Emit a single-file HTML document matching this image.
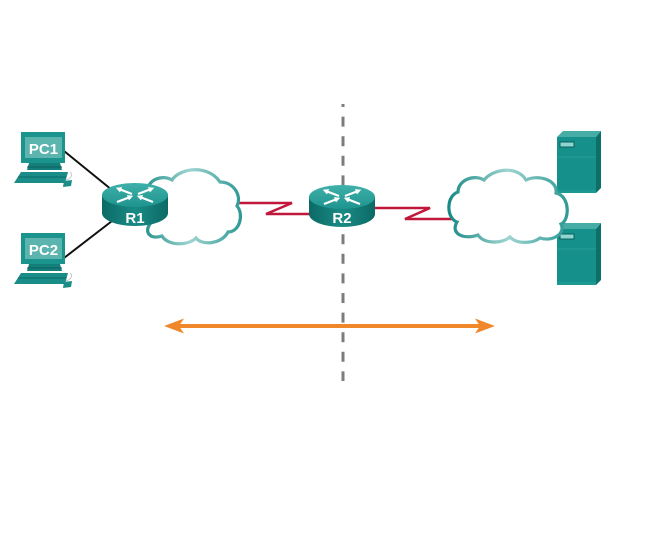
<!DOCTYPE html>
<html>
<head>
<meta charset="utf-8">
<style>
html,body{margin:0;padding:0;background:#fff;}
body{width:653px;height:556px;overflow:hidden;}
svg{display:block;}
text{font-family:"Liberation Sans",Arial,sans-serif;font-weight:bold;fill:#fff;}
</style>
</head>
<body>
<svg width="653" height="556" viewBox="0 0 653 556" xmlns="http://www.w3.org/2000/svg">
<defs>
  <linearGradient id="cloudG" x1="0" y1="0" x2="1" y2="0">
    <stop offset="0" stop-color="#178a85"/>
    <stop offset="0.5" stop-color="#9fd4d0"/>
    <stop offset="1" stop-color="#2f9a95"/>
  </linearGradient>
  <linearGradient id="rBody" x1="0" y1="0" x2="1" y2="0">
    <stop offset="0" stop-color="#0c6a66"/>
    <stop offset="0.5" stop-color="#1a8a85"/>
    <stop offset="1" stop-color="#0c6a66"/>
  </linearGradient>
  <linearGradient id="rTop" x1="0" y1="0" x2="0" y2="1">
    <stop offset="0" stop-color="#40b0aa"/>
    <stop offset="1" stop-color="#1e948e"/>
  </linearGradient>
  <marker id="ah" viewBox="0 0 10 10" refX="4" refY="5" markerWidth="2.6" markerHeight="2.6" orient="auto">
    <path d="M0,0 L10,5 L0,10 Z" fill="#fff"/>
  </marker>
</defs>

<!-- dashed divider -->
<line x1="343" y1="104" x2="343" y2="381" stroke="#7c7c7c" stroke-width="3" stroke-dasharray="10 9.6" stroke-dashoffset="7"/>

<!-- black links -->
<line x1="64" y1="151" x2="112" y2="190" stroke="#111" stroke-width="2"/>
<line x1="64" y1="258" x2="112" y2="221" stroke="#111" stroke-width="2"/>

<!-- serial links -->
<polyline points="236,203 292,203 266,214 312,214" fill="none" stroke="#c0173b" stroke-width="2.5"/>
<polyline points="372,208 430,208 405,219 454,219" fill="none" stroke="#c0173b" stroke-width="2.5"/>

<!-- servers -->
<g>
  <polygon points="557,137 563,131 601,131 596,137" fill="#47aca6"/>
  <rect x="557" y="137" width="39" height="56" fill="#15908a"/>
  <polygon points="596,137 601,131 601,188 596,193" fill="#0d6e6a"/>
  <line x1="557" y1="157" x2="596" y2="157" stroke="#2aa19b" stroke-width="1"/>
  <rect x="560" y="142" width="14" height="5" fill="#8fd6d0" stroke="#0b5f5b" stroke-width="1"/>
  <rect x="557" y="190" width="39" height="3" fill="#1c9993"/>
</g>
<g transform="translate(0,92)">
  <polygon points="557,137 563,131 601,131 596,137" fill="#47aca6"/>
  <rect x="557" y="137" width="39" height="56" fill="#15908a"/>
  <polygon points="596,137 601,131 601,188 596,193" fill="#0d6e6a"/>
  <line x1="557" y1="157" x2="596" y2="157" stroke="#2aa19b" stroke-width="1"/>
  <rect x="560" y="142" width="14" height="5" fill="#8fd6d0" stroke="#0b5f5b" stroke-width="1"/>
  <rect x="557" y="190" width="39" height="3" fill="#1c9993"/>
</g>

<!-- cloud 1 -->
<path d="M150,224 C136,220 136,196 148,190 C148,180 162,174 172,180 C180,168 208,164 220,182 C234,182 242,196 237,206 C244,214 240,232 228,232 C222,244 202,246 196,238 C188,246 168,246 162,236 C150,240 144,232 150,224 Z" fill="#fff" stroke="url(#cloudG)" stroke-width="3.2"/>

<!-- cloud 2 -->
<path d="M457,222 C446,218 446,196 458,192 C458,180 474,174 484,180 C494,168 518,166 526,180 C538,174 558,180 556,193 C570,196 570,220 561,224 C566,234 552,242 540,238 C532,244 516,244 510,237 C502,244 484,244 478,235 C464,240 450,234 457,222 Z" fill="#fff" stroke="url(#cloudG)" stroke-width="3.2"/>

<!-- PCs -->
<g>
  <rect x="21" y="132" width="44" height="31" fill="#1c948e"/>
  <rect x="25" y="137" width="37" height="21" fill="#5cb4ae"/>
  <polygon points="29,163 60,163 62,170 27,170" fill="#147e7a"/>
  <line x1="27" y1="167" x2="62" y2="167" stroke="#0d625e" stroke-width="1"/>
  <polygon points="21,172 68,172 65,183 14,183" fill="#1a8d88"/>
  <line x1="18" y1="177" x2="66" y2="177" stroke="#0f6b67" stroke-width="1"/>
  <path d="M70,172 C74,175 70,179 66,180" fill="none" stroke="#c8c8c8" stroke-width="1"/>
  <polygon points="64,181 72,180 71,186 63,187" fill="#1a8d88"/>
  <text x="43.5" y="154" font-size="15" text-anchor="middle">PC1</text>
</g>
<g transform="translate(0,101)">
  <rect x="21" y="132" width="44" height="31" fill="#1c948e"/>
  <rect x="25" y="137" width="37" height="21" fill="#5cb4ae"/>
  <polygon points="29,163 60,163 62,170 27,170" fill="#147e7a"/>
  <line x1="27" y1="167" x2="62" y2="167" stroke="#0d625e" stroke-width="1"/>
  <polygon points="21,172 68,172 65,183 14,183" fill="#1a8d88"/>
  <line x1="18" y1="177" x2="66" y2="177" stroke="#0f6b67" stroke-width="1"/>
  <path d="M70,172 C74,175 70,179 66,180" fill="none" stroke="#c8c8c8" stroke-width="1"/>
  <polygon points="64,181 72,180 71,186 63,187" fill="#1a8d88"/>
  <text x="43.5" y="154" font-size="15" text-anchor="middle">PC2</text>
</g>

<!-- Router R1 -->
<g>
  <path d="M102,195 L102,213 A33 13 0 0 0 168,213 L168,195 Z" fill="url(#rBody)"/>
  <ellipse cx="135" cy="195" rx="33" ry="12" fill="url(#rTop)"/>
  <g stroke="#fff" stroke-width="2.2" marker-end="url(#ah)">
    <line x1="132" y1="194" x2="119" y2="189"/>
    <line x1="138" y1="194" x2="151" y2="189"/>
    <line x1="117" y1="202" x2="130" y2="197"/>
    <line x1="153" y1="202" x2="140" y2="197"/>
  </g>
  <text x="135" y="223" font-size="15" text-anchor="middle">R1</text>
</g>

<!-- Router R2 -->
<g>
  <path d="M309,197 L309,214 A33 13 0 0 0 375,214 L375,197 Z" fill="url(#rBody)"/>
  <ellipse cx="342" cy="197" rx="33" ry="12" fill="url(#rTop)"/>
  <g stroke="#fff" stroke-width="2.2" marker-end="url(#ah)">
    <line x1="339" y1="196" x2="326" y2="191"/>
    <line x1="345" y1="196" x2="358" y2="191"/>
    <line x1="324" y1="204" x2="337" y2="199"/>
    <line x1="360" y1="204" x2="347" y2="199"/>
  </g>
  <text x="342" y="223" font-size="15" text-anchor="middle">R2</text>
</g>

<!-- orange double arrow -->
<line x1="177" y1="326" x2="482" y2="326" stroke="#f0872a" stroke-width="4"/>
<polygon points="164,326 184,318.5 179,326 184,333.5" fill="#f0872a"/>
<polygon points="495,326 475,318.5 480,326 475,333.5" fill="#f0872a"/>
</svg>
</body>
</html>
